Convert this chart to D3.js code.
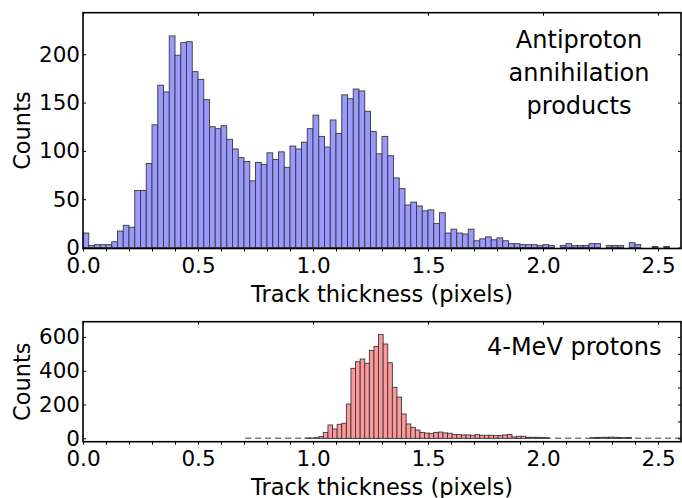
<!DOCTYPE html>
<html>
<head>
<meta charset="utf-8">
<script src="https://cdn.jsdelivr.net/npm/d3@7"></script>
<style>
  body { margin: 0; background: #fff; }
  svg { display: block; font-family: "DejaVu Sans", sans-serif; }
</style>
</head>
<body>
<div id="chart"></div>
<script>
// antiproton annihilation products: bins of 0.025 starting at 0
const anti_start = 0;
const anti_width = 0.025;
const anti_counts = [
  15, 2, 3, 3, 3, 6, 17, 23, 21, 59,
  59, 87, 127, 168, 161, 219, 199, 212, 213, 182,
  174, 153, 125, 123, 126, 112, 102, 93, 89, 69,
  88, 86, 98, 91, 99, 83, 105, 102, 109, 123,
  137, 115, 104, 132, 118, 158, 154, 164, 162, 141,
  120, 97, 115, 95, 72, 61, 44, 47, 43, 38,
  39, 25, 36, 15, 19, 15, 14, 19, 7, 9,
  11, 8, 10, 7, 4, 4, 3, 3, 3, 2,
  3, 2, 0, 2, 4, 2, 2, 2, 4, 4,
  0, 2, 2, 2, 0, 5, 3, 0, 0, 1,
  0, 1, 0, 0
];

// 4-MeV protons: bins of 0.02 starting at 0.705
const prot_start = 0.705;
const prot_width = 0.02;
const prot_counts = [
  0, 0, 0, 0, 0, 0, 0, 0, 0, 0,
  0, 0, 0, 1, 2, 3, 10, 35, 79, 55,
  83, 89, 203, 414, 453, 469, 444, 520, 544, 615,
  558, 447, 302, 244, 144, 85, 65, 49, 35, 31,
  29, 35, 37, 32, 30, 22, 22, 20, 20, 18,
  22, 18, 18, 18, 16, 16, 20, 22, 8, 12,
  12, 6, 6, 6, 5, 4, 0, 0, 0, 0,
  0, 0, 0, 0, 0, 4, 5, 6, 6, 7,
  6, 5, 4, 5, 0, 0, 0, 0, 0, 0,
  0, 0, 0, 0, 0
];

const x_domain = [0, 2.6];
const x_ticks = [0.0, 0.5, 1.0, 1.5, 2.0, 2.5];
const x_minor = d3.range(0, 26).map(i => i / 10);
const anti_y_ticks = [0, 50, 100, 150, 200];
const prot_y_ticks = [0, 200, 400, 600];
const prot_y_minor = [0, 100, 200, 300, 400, 500, 600];

const W = 682, H = 498;
const svg = d3.select("#chart").append("svg")
  .attr("width", W)
  .attr("height", H);

const draw_panel = (p) => {
  const x = d3.scaleLinear().domain(x_domain).range([p.left, p.right]);
  const y = d3.scaleLinear().domain(p.y_domain).range([p.bottom, p.top]);
  const bins = p.counts.map((c, i) => ({
    x0: p.start + i * p.width,
    x1: p.start + (i + 1) * p.width,
    n: c
  }));

  const clip_id = "clip-" + p.name;
  svg.append("clipPath")
    .attr("id", clip_id)
    .append("rect")
      .attr("x", p.left)
      .attr("y", p.top)
      .attr("width", p.right - p.left)
      .attr("height", p.bottom - p.top);

  const g = svg.append("g").attr("clip-path", "url(#" + clip_id + ")");

  if (p.dash) {
    g.append("line")
      .attr("x1", x(p.dash[0]))
      .attr("x2", x(p.dash[1]))
      .attr("y1", y(0))
      .attr("y2", y(0))
      .attr("stroke", "#7a7a7a")
      .attr("stroke-width", 1.4)
      .attr("stroke-dasharray", "6,4");
  }

  g.selectAll("rect.bar")
    .data(bins.filter(d => d.n > 0))
    .enter()
    .append("rect")
      .attr("class", "bar")
      .attr("x", d => x(d.x0))
      .attr("y", d => y(d.n))
      .attr("width", d => x(d.x1) - x(d.x0))
      .attr("height", d => y(0) - y(d.n))
      .attr("fill", p.fill)
      .attr("stroke", "#383838")
      .attr("stroke-width", 0.9);

  // ticks
  const bottom_ticks = svg.append("g")
    .attr("transform", "translate(0," + p.bottom + ")")
    .call(d3.axisBottom(x).tickValues(x_minor).tickFormat("").tickSizeInner(3).tickSizeOuter(0));
  bottom_ticks.select(".domain").remove();

  const bottom_labels = svg.append("g")
    .attr("transform", "translate(0," + p.bottom + ")")
    .call(d3.axisBottom(x).tickValues(x_ticks).tickFormat(d3.format(".1f")).tickSize(0).tickPadding(9));
  bottom_labels.select(".domain").remove();
  bottom_labels.selectAll("text")
    .attr("font-family", "DejaVu Sans")
    .attr("font-size", "21.5px")
    .attr("fill", "#000");

  const top_ticks = svg.append("g")
    .attr("transform", "translate(0," + p.top + ")")
    .call(d3.axisTop(x).tickValues(x_ticks).tickFormat("").tickSizeInner(-3).tickSizeOuter(0));
  top_ticks.select(".domain").remove();

  const left_axis = svg.append("g")
    .attr("transform", "translate(" + p.left + ",0)")
    .call(d3.axisLeft(y).tickValues(p.y_ticks).tickSizeInner(-3).tickSizeOuter(0).tickPadding(3));
  left_axis.select(".domain").remove();
  left_axis.selectAll("text")
    .attr("font-family", "DejaVu Sans")
    .attr("font-size", "21.5px")
    .attr("fill", "#000");

  const right_axis = svg.append("g")
    .attr("transform", "translate(" + p.right + ",0)")
    .call(d3.axisRight(y).tickValues(p.y_right).tickFormat("").tickSizeInner(-3).tickSizeOuter(0));
  right_axis.select(".domain").remove();

  svg.selectAll(".tick line").attr("stroke", "#000");

  // frame
  svg.append("rect")
    .attr("x", p.left)
    .attr("y", p.top)
    .attr("width", p.right - p.left)
    .attr("height", p.bottom - p.top)
    .attr("fill", "none")
    .attr("stroke", "#000")
    .attr("stroke-width", 1.6);

  svg.append("text")
    .attr("transform", "translate(30," + (p.top + p.bottom) / 2 + ") rotate(-90)")
    .attr("text-anchor", "middle")
    .attr("font-size", "22.5px")
    .text("Counts");

  svg.append("text")
    .attr("x", (p.left + p.right) / 2)
    .attr("y", p.bottom + 53)
    .attr("text-anchor", "middle")
    .attr("font-size", "22.5px")
    .text("Track thickness (pixels)");
};

draw_panel({
  name: "anti",
  left: 83, right: 681, top: 12.7, bottom: 248.5,
  y_domain: [-1, 243],
  y_ticks: anti_y_ticks,
  y_right: anti_y_ticks,
  counts: anti_counts,
  start: anti_start,
  width: anti_width,
  fill: "#9999ff",
  dash: null
});

draw_panel({
  name: "prot",
  left: 83, right: 681, top: 321.7, bottom: 441.7,
  y_domain: [-20, 690],
  y_ticks: prot_y_ticks,
  y_right: prot_y_minor,
  counts: prot_counts,
  start: prot_start,
  width: prot_width,
  fill: "#ff9999",
  dash: [prot_start, 2.6]
});

// panel annotations
const note = svg.append("text")
  .attr("text-anchor", "middle")
  .attr("font-size", "24px");
["Antiproton", "annihilation", "products"].forEach((line, i) => {
  note.append("tspan")
    .attr("x", 579)
    .attr("y", 47.5 + i * 33)
    .text(line);
});

svg.append("text")
  .attr("x", 661.5)
  .attr("y", 355)
  .attr("text-anchor", "end")
  .attr("font-size", "24px")
  .text("4-MeV protons");
</script>
</body>
</html>
